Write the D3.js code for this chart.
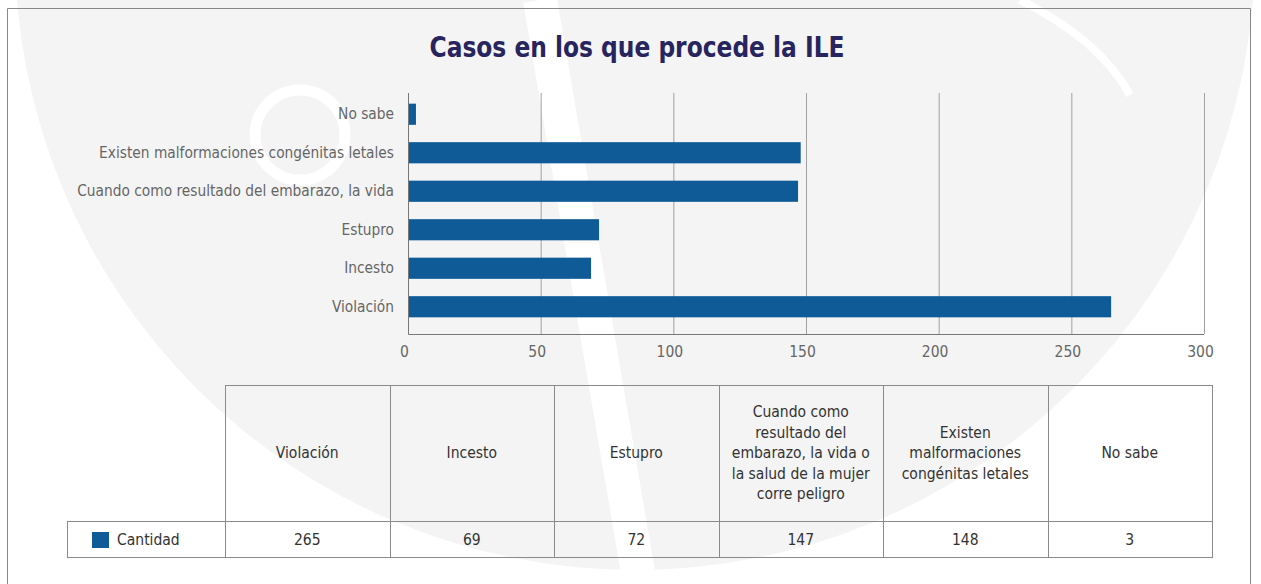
<!DOCTYPE html>
<html>
<head>
<meta charset="utf-8">
<script src="https://cdn.jsdelivr.net/npm/d3@7"></script>
<style>
  body { margin: 0; background: #fff; }
  text { font-family: "Liberation Sans Narrow", "DejaVu Sans Condensed", sans-serif; }
</style>
</head>
<body>
<div id="viz"></div>
<script>
var width = 1261;
var height = 584;

// data, in table order
var categories = ['Violación', 'Incesto', 'Estupro',
  'Cuando como resultado del embarazo, la vida o la salud de la mujer corre peligro',
  'Existen malformaciones congénitas letales', 'No sabe'];
var axisLabels = ['Violación', 'Incesto', 'Estupro',
  'Cuando como resultado del embarazo, la vida',
  'Existen malformaciones congénitas letales', 'No sabe'];
var headerLines = [
  ['Violación'],
  ['Incesto'],
  ['Estupro'],
  ['Cuando como', 'resultado del', 'embarazo, la vida o', 'la salud de la mujer', 'corre peligro'],
  ['Existen', 'malformaciones', 'congénitas letales'],
  ['No sabe']
];
var cantidad = [265, 69, 72, 147, 148, 3];
var xTicks = [0, 50, 100, 150, 200, 250, 300];
var seriesName = 'Cantidad';
var title = 'Casos en los que procede la ILE';

var barColor = '#0f5b97';
var gridColor = '#a0a0a0';
var textColor = '#666';

var plot = { left: 408, right: 1204, top: 93, bottom: 334 };

var svg = d3.select('#viz').append('svg')
  .attr('width', width)
  .attr('height', height);

// faint watermark behind everything
var wm = svg.append('g');
wm.append('circle')
  .attr('cx', 635).attr('cy', -50).attr('r', 620)
  .style('fill', '#f4f4f4');
wm.append('circle')
  .attr('cx', 300).attr('cy', 135).attr('r', 45)
  .style('fill', 'none').style('stroke', '#fff').style('stroke-width', 11);
wm.append('path')
  .attr('d', 'M540,0 L640,584')
  .style('stroke', '#fff').style('stroke-width', 34);
wm.append('path')
  .attr('d', 'M1020,0 Q1100,40 1130,95')
  .style('fill', 'none').style('stroke', '#fff').style('stroke-width', 8);

// outer frame
svg.append('path')
  .attr('d', 'M7.5,584 L7.5,8.5 L1250.5,8.5 L1250.5,584')
  .style('fill', 'none')
  .style('stroke', '#888');

svg.append('text')
  .attr('x', 637)
  .attr('y', 57)
  .attr('text-anchor', 'middle')
  .attr('textLength', 415)
  .attr('lengthAdjust', 'spacingAndGlyphs')
  .style('font-size', '29px')
  .style('font-weight', 'bold')
  .style('fill', '#28245e')
  .text(title);

var x = d3.scaleLinear()
  .domain([0, 300])
  .range([plot.left, plot.right]);

var y = d3.scaleBand()
  .domain(categories)
  .range([326, 95])
  .paddingInner(0.45)
  .paddingOuter(0.225);

// grid + x axis
var xAxis = svg.append('g')
  .attr('transform', 'translate(0,' + plot.bottom + ')')
  .call(d3.axisBottom(x).tickValues(xTicks).tickSize(-(plot.bottom - plot.top)).tickPadding(12));
xAxis.select('.domain').remove();
xAxis.selectAll('line').style('stroke', gridColor);
xAxis.selectAll('text')
  .style('font-size', '15.5px')
  .style('fill', textColor)
  .attr('dx', -4);

svg.append('path')
  .attr('d', 'M' + (plot.left + 0.5) + ',' + plot.top + ' L' + (plot.left + 0.5) + ',' + (plot.bottom + 0.5) + ' L' + plot.right + ',' + (plot.bottom + 0.5))
  .style('fill', 'none')
  .style('stroke', '#777');

// category labels
var yAxis = svg.append('g')
  .attr('transform', 'translate(' + plot.left + ',0)')
  .call(d3.axisLeft(y).tickSize(0).tickPadding(14).tickFormat(function (d, i) { return axisLabels[i]; }));
yAxis.select('.domain').remove();
yAxis.selectAll('text')
  .style('font-size', '15.3px')
  .style('fill', textColor);

svg.append('g')
  .selectAll('rect')
  .data(categories).enter()
  .append('rect')
  .attr('x', x(0) + 1)
  .attr('y', function (d) { return y(d); })
  .attr('width', function (d, i) { return x(cantidad[i]) - x(0) - 1; })
  .attr('height', y.bandwidth())
  .style('fill', barColor);

// data table
var tbl = { left: 225, right: 1212, top: 385, mid: 521, bottom: 557, legendLeft: 67 };
var col = d3.scaleBand()
  .domain(categories)
  .range([tbl.left, tbl.right]);

var grid = svg.append('g')
  .style('fill', 'none')
  .style('stroke', '#8a8a8a');
grid.append('rect')
  .attr('x', tbl.left + 0.5).attr('y', tbl.top + 0.5)
  .attr('width', tbl.right - tbl.left).attr('height', tbl.bottom - tbl.top);
grid.append('rect')
  .attr('x', tbl.legendLeft + 0.5).attr('y', tbl.mid + 0.5)
  .attr('width', tbl.right - tbl.legendLeft).attr('height', tbl.bottom - tbl.mid);
grid.selectAll('line')
  .data(categories.slice(1)).enter()
  .append('line')
  .attr('x1', function (d) { return Math.round(col(d)) + 0.5; })
  .attr('x2', function (d) { return Math.round(col(d)) + 0.5; })
  .attr('y1', tbl.top)
  .attr('y2', tbl.bottom);

var lineH = 20.5;
var headers = svg.append('g')
  .selectAll('text')
  .data(categories).enter()
  .append('text')
  .attr('text-anchor', 'middle')
  .style('font-size', '15.5px')
  .style('fill', '#333');
headers.each(function (d, i) {
  var lines = headerLines[i];
  var cy = (tbl.top + tbl.mid) / 2 + 5 - (lines.length - 1) * lineH / 2;
  d3.select(this).selectAll('tspan')
    .data(lines).enter()
    .append('tspan')
    .attr('x', col(d) + col.bandwidth() / 2)
    .attr('y', function (l, j) { return cy + j * lineH; })
    .text(function (l) { return l; });
});

svg.append('g')
  .selectAll('text')
  .data(categories).enter()
  .append('text')
  .attr('x', function (d) { return col(d) + col.bandwidth() / 2; })
  .attr('y', 545)
  .attr('text-anchor', 'middle')
  .style('font-size', '15.5px')
  .style('fill', '#333')
  .text(function (d, i) { return cantidad[i]; });

svg.append('rect')
  .attr('x', 92).attr('y', 532)
  .attr('width', 17).attr('height', 16)
  .style('fill', barColor);
svg.append('text')
  .attr('x', 117).attr('y', 545)
  .style('font-size', '15.5px')
  .style('fill', '#333')
  .text(seriesName);
</script>
</body>
</html>
